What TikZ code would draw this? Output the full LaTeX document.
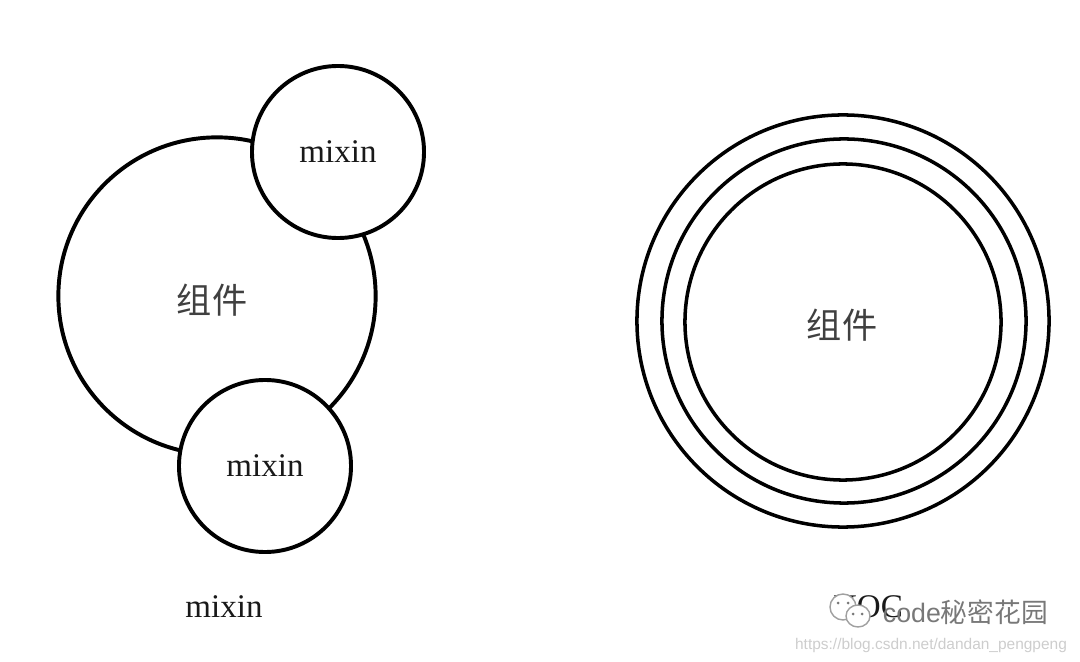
\documentclass[tikz,border=0pt]{standalone}
\usepackage{fontspec}
\setmainfont{Liberation Serif}
\newfontfamily\cjk{Noto Sans CJK SC}
\newfontfamily\wmfont{Liberation Sans}
\definecolor{wmgray}{RGB}{205,205,205}
\definecolor{wmdark}{RGB}{120,120,120}
\begin{document}
\begin{tikzpicture}[x=0.025cm,y=-0.025cm,
	ring/.style={draw=black,line width=2.8pt,circle,inner sep=0pt},
	thinring/.style={draw=black,line width=2.5pt,circle,inner sep=0pt},
	mixtext/.style={font=\fontsize{23.5}{24}\selectfont,text=black!90},
	comptext/.style={font=\cjk\fontsize{25}{26}\selectfont,text=black!75}]
	\useasboundingbox (0,0) rectangle (1080,662);
	% mixin
	\node[ring,minimum size=7.93cm] (comp) at (217,296) {};
	\node[comptext] (complabel) at (212,300) {组件};
	\node[ring,fill=white,minimum size=4.3cm,mixtext] (mixtop) at (338,152) {mixin};
	\node[ring,fill=white,minimum size=4.3cm,mixtext] (mixbot) at (265,466) {mixin};
	\node[mixtext] (mixcaption) at (224,607) {mixin};
	% HOC
	\node[thinring,minimum size=10.3cm] (outer) at (843,321) {};
	\node[thinring,minimum size=9.1cm] (middle) at (844,321) {};
	\node[thinring,minimum size=7.9cm] (inner) at (843,322) {};
	\node[comptext] (hoclabel) at (842,325) {组件};
	\node[mixtext] (hoccaption) at (868,607) {HOC};
	% watermark
	\draw[wmdark!70,fill=white,line width=1pt] (843,607) ellipse (13 and 13);
	\draw[wmdark!70,fill=white,line width=1pt] (858,616) ellipse (12 and 11);
	\fill[wmdark] (838,603) circle (1.5) (848,603) circle (1.5) (853,614) circle (1.5) (862,614) circle (1.5);
	\node[font=\wmfont\fontsize{19}{20}\selectfont,text=wmdark,anchor=west] (wmname) at (878,612) {code\cjk 秘密花园};
	\node[font=\wmfont\fontsize{11}{12}\selectfont,text=wmgray] (wmurl) at (931,645) {https://blog.csdn.net/dandan\_pengpeng};
\end{tikzpicture}
\end{document}
